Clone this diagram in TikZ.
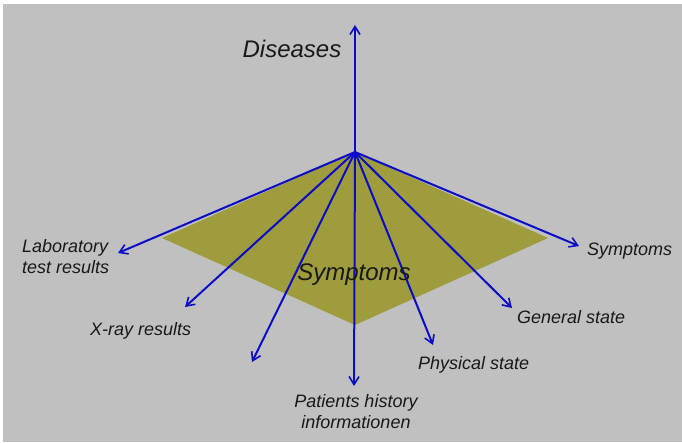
\documentclass[tikz,border=0pt]{standalone}
\usepackage{fontspec}
\setmainfont{Liberation Sans}
\usetikzlibrary{arrows.meta}
\definecolor{bg}{RGB}{192,192,192}
\definecolor{axis}{RGB}{12,12,200}
\definecolor{plane}{RGB}{158,156,60}
\definecolor{ink}{RGB}{25,25,25}
\begin{document}
\begin{tikzpicture}[x=1pt,y=-1pt,
  axisline/.style={draw=axis,line width=2pt,line cap=round,
    -{Straight Barb[length=8pt,width=10pt,line width=1.6pt]}},
  lbl/.style={font=\fontsize{18}{21}\selectfont\itshape,text=ink,inner sep=0pt},
  biglbl/.style={font=\fontsize{24}{28}\selectfont\itshape,text=ink,inner sep=0pt}]
% canvas
\fill[white] (0,0) rectangle (682,442);
\fill[bg] (3,4) rectangle (682,442);
\useasboundingbox (0,0) rectangle (682,442);

% apex of the fan and the symptom plane
\coordinate (apex) at (355,152);
\coordinate (pl) at (162,238);
\coordinate (pr) at (548,238);
\coordinate (pb) at (355,325);
\fill[plane] (apex) -- (pr) -- (pb) -- (pl) -- cycle;

% arrow ends
\coordinate (tup)   at (355,25);
\coordinate (tlab)  at (118,253);
\coordinate (txray) at (185,307);
\coordinate (tfree) at (252,362);
\coordinate (tdown) at (354,386);
\coordinate (tphys) at (433,345);
\coordinate (tgen)  at (512,308);
\coordinate (tsym)  at (579,246);

\foreach \t in {tup,tlab,txray,tfree,tdown,tphys,tgen,tsym}
  \draw[axisline] (apex) -- (\t);

% labels (multi-line nodes sit on the baseline of their last line)
\node[biglbl,anchor=base] (dis) at (292,57) {Diseases};
\node[biglbl,anchor=base] (plane) at (354,280) {Symptoms};
\node[lbl,anchor=base west,align=left] (lab) at (22,273) {Laboratory\\test results};
\node[lbl,anchor=base west] (xray) at (90,335) {X-ray results};
\node[lbl,anchor=base,align=center] (hist) at (356,428) {Patients history\\informationen};
\node[lbl,anchor=base west] (phys) at (418,369) {Physical state};
\node[lbl,anchor=base west] (gen) at (517,323) {General state};
\node[lbl,anchor=base west] (sym) at (587,255) {Symptoms};
\end{tikzpicture}
\end{document}
